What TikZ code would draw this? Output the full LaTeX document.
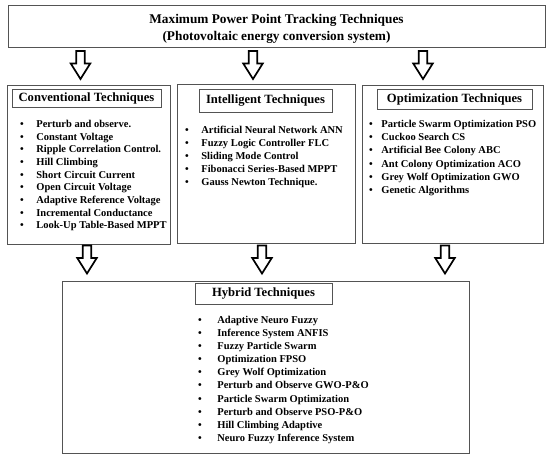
\documentclass[tikz,border=0pt]{standalone}
\usepackage{fontspec}
\setmainfont{Liberation Serif}
\usetikzlibrary{positioning}

\tikzset{
  box/.style={draw=gray!65!black, line width=0.8pt, inner sep=0pt},
  headbox/.style={box, font=\fontsize{12.6}{15}\selectfont\bfseries},
  list/.style={anchor=north west, align=left, inner sep=0pt,
    font=\fontsize{10.5}{13.1}\selectfont\bfseries},
  hollowdown/.pic={
    \draw[line width=1.7pt, line join=miter]
      (-4.25,-14.5) -- (4.25,-14.5) -- (4.25,-2) -- (9.75,-2) -- (0,13.5)
      -- (-9.75,-2) -- (-4.25,-2) -- cycle;}
}

\begin{document}
\begin{tikzpicture}[x=1pt,y=-1pt]
   \useasboundingbox (0,0) rectangle (550,460);

   % top title
   \node(mppt)[box, minimum width=537pt, minimum height=42pt] at (276.5,26) {};
   \node(mpptt)[align=center, font=\fontsize{13.3}{17}\selectfont\bfseries] at (276.5,28.5)
     {Maximum Power Point Tracking Techniques\\(Photovoltaic energy conversion system)};

   % the three families
   \node(conv)[box, minimum width=163pt, minimum height=159pt] at (88.5,164.5) {};
   \node(convt)[headbox, minimum width=149pt, minimum height=18pt] at (86.5,98) {Conventional Techniques};
   \node(convl)[list, font=\fontsize{10.5}{12.65}\selectfont\bfseries] at (20,120) {\textbullet\hspace{12.5pt}Perturb and observe.\\
     \textbullet\hspace{12.5pt}Constant Voltage\\
     \textbullet\hspace{12.5pt}Ripple Correlation Control.\\
     \textbullet\hspace{12.5pt}Hill Climbing\\
     \textbullet\hspace{12.5pt}Short Circuit Current\\
     \textbullet\hspace{12.5pt}Open Circuit Voltage\\
     \textbullet\hspace{12.5pt}Adaptive Reference Voltage\\
     \textbullet\hspace{12.5pt}Incremental Conductance\\
     \textbullet\hspace{12.5pt}Look-Up Table-Based MPPT};

   \node(intel)[box, minimum width=178pt, minimum height=159pt] at (266,163.5) {};
   \node(intelt)[headbox, minimum width=133pt, minimum height=23pt] at (265.5,100.5) {Intelligent Techniques};
   \node(intell)[list, font=\fontsize{10.5}{13}\selectfont\bfseries] at (185,126) {\textbullet\hspace{12.5pt}Artificial Neural Network ANN\\
     \textbullet\hspace{12.5pt}Fuzzy Logic Controller FLC\\
     \textbullet\hspace{12.5pt}Sliding Mode Control\\
     \textbullet\hspace{12.5pt}Fibonacci Series-Based MPPT\\
     \textbullet\hspace{12.5pt}Gauss Newton Technique.};

   \node(opt)[box, minimum width=181pt, minimum height=158pt] at (452.5,164) {};
   \node(optt)[headbox, minimum width=155pt, minimum height=20pt] at (454.5,99) {Optimization Techniques};
   \node(optl)[list, font=\fontsize{10.5}{13.2}\selectfont\bfseries] at (369,120) {\textbullet\hspace{8.5pt}Particle Swarm Optimization PSO\\
     \textbullet\hspace{8.5pt}Cuckoo Search CS\\
     \textbullet\hspace{8.5pt}Artificial Bee Colony ABC\\
     \textbullet\hspace{8.5pt}Ant Colony Optimization ACO\\
     \textbullet\hspace{8.5pt}Grey Wolf Optimization GWO\\
     \textbullet\hspace{8.5pt}Genetic Algorithms};

   % hybrid
   \node(hyb)[box, minimum width=407pt, minimum height=172pt] at (265.5,367) {};
   \node(hybt)[headbox, minimum width=137pt, minimum height=21pt] at (263.5,293.5) {Hybrid Techniques};
   \node(hybl)[list] at (198,316) {\textbullet\hspace{15.5pt}Adaptive Neuro Fuzzy\\
     \textbullet\hspace{15.5pt}Inference System ANFIS\\
     \textbullet\hspace{15.5pt}Fuzzy Particle Swarm\\
     \textbullet\hspace{15.5pt}Optimization FPSO\\
     \textbullet\hspace{15.5pt}Grey Wolf Optimization\\
     \textbullet\hspace{15.5pt}Perturb and Observe GWO-P\&O\\
     \textbullet\hspace{15.5pt}Particle Swarm Optimization\\
     \textbullet\hspace{15.5pt}Perturb and Observe PSO-P\&O\\
     \textbullet\hspace{15.5pt}Hill Climbing Adaptive\\
     \textbullet\hspace{15.5pt}Neuro Fuzzy Inference System};

   % hollow arrows
   \pic at (80.5,65.5) {hollowdown};
   \pic at (253,65.5) {hollowdown};
   \pic at (423,65.5) {hollowdown};
   \pic at (87,260) {hollowdown};
   \pic at (262,260) {hollowdown};
   \pic at (445,260) {hollowdown};
\end{tikzpicture}
\end{document}
